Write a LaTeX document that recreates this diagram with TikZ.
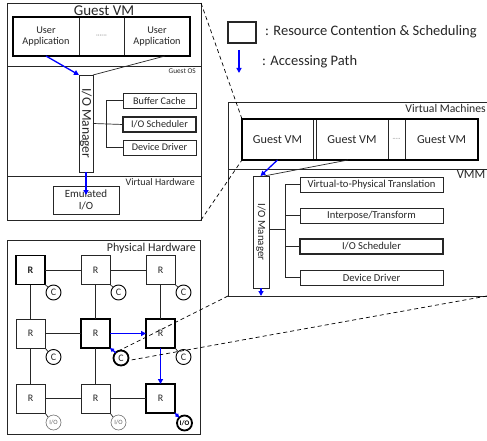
\documentclass[tikz,border=0pt]{standalone}
\usepackage{fontspec}
\setmainfont{Carlito}
\usetikzlibrary{arrows.meta,calc}
\newcommand{\fs}[1]{\fontsize{#1}{#1}\selectfont}
\begin{document}
\begin{tikzpicture}[x=1pt,y=-1pt,
  txt/.style={text=black!85},
  bx/.style={draw=black!85, line width=0.7pt, inner sep=0pt, outer sep=0pt, anchor=north west, txt, align=center},
  thickbx/.style={bx, line width=1.7pt},
  lbl/.style={inner sep=0pt, anchor=north east, txt},
  ln/.style={draw=black!85, line width=0.7pt},
  thk/.style={draw=black, line width=1.7pt},
  acc/.style={draw=blue, line width=1.3pt, -{Triangle[length=5pt,width=5pt]}},
  dsh/.style={draw=black, line width=0.7pt, dash pattern=on 4pt off 3pt},
  rbox/.style={draw=black!85, line width=0.8pt, minimum width=29pt, minimum height=29pt, inner sep=0pt, outer sep=0pt, txt, font=\fs{10}},
  rbold/.style={rbox, line width=1.7pt, draw=black},
  cc/.style={circle, draw=black, line width=0.9pt, minimum size=15pt, inner sep=0pt, outer sep=0pt, txt, font=\fs{10}},
  cbold/.style={cc, line width=1.8pt},
  ioc/.style={circle, draw=black!55, line width=0.6pt, minimum size=15pt, inner sep=0pt, outer sep=0pt, text=black!60, font=\fs{6.5}},
  iobold/.style={ioc, draw=black, text=black, line width=1.8pt, font=\bfseries\fs{7}}
]
\useasboundingbox (0,0) rectangle (487,441);

% ---------------- Guest VM -----------------
\node[bx, minimum width=194pt, minimum height=217pt] (gvm) at (7,3) {};
\node[txt, inner sep=0pt, font=\fs{15}] (gvmt) at (104,10.5) {Guest VM};
\node[bx, minimum width=66pt, minimum height=39pt, font=\fs{10.3}, align=center] (app1) at (13,17) {User\\[1pt]Application};
\node[bx, minimum width=45pt, minimum height=39pt, font=\fs{7}, text=black!45] (appd) at (79,17) {\textperiodcentered\textperiodcentered\textperiodcentered\textperiodcentered\textperiodcentered\textperiodcentered};
\node[bx, minimum width=66pt, minimum height=39pt, font=\fs{10.3}, align=center] (app2) at (124,17) {User\\[1pt]Application};
\draw[thk] (app1.north west) rectangle (app2.south east);
\coordinate (gos1) at (7,66);
\coordinate (gos2) at (201,66);
\draw[ln] (gos1) -- (gos2);
\node[lbl, font=\fs{7.3}] (goslbl) at (196,68.5) {Guest OS};
\node[bx, minimum width=14pt, minimum height=97pt] (gm) at (79,75) {};
\node[txt, rotate=-90, font=\fs{13.5}, inner sep=0pt] (gmt) at (gm.center) {I/O Manager};
\node[bx, minimum width=73pt, minimum height=15pt, font=\fs{10.2}] (gbc) at (123,93) {Buffer Cache};
\node[thickbx, minimum width=73pt, minimum height=15pt, font=\fs{10.2}] (gsch) at (123,117) {I/O Scheduler};
\node[bx, minimum width=73pt, minimum height=15pt, font=\fs{10.2}] (gdd) at (123,140) {Device Driver};
\coordinate (gbr) at (106,124);
\draw[ln] (gbc.west) -| (gbr |- gdd.west) -- (gdd.west);
\draw[ln] (gm.east) -- (gsch.west);
\coordinate (gvh1) at (7,176);
\coordinate (gvh2) at (201,176);
\draw[ln] (gvh1) -- (gvh2);
\node[lbl, font=\fs{10}] (gvhlbl) at (195,178.5) {Virtual Hardware};
\node[bx, minimum width=66pt, minimum height=28pt, font=\fs{11}, align=center] (emu) at (53,186) {Emulated\\[0.5pt]I/O};
\draw[acc] (app1.south) -- (gm.north west);
\draw[ln] ([xshift=8pt]app2.south) -- (gm.north east);
\draw[acc] (gm.south) -- ([yshift=-9pt]emu.north);

% ---------------- Legend -----------------
\node[thickbx, minimum width=28pt, minimum height=21pt] (legbox) at (228,22) {};
\node[txt, anchor=west, inner sep=0pt, font=\fs{14.5}] (legt1) at (265,32) {: Resource Contention \& Scheduling};
\coordinate (lega1) at (239,50);
\coordinate (lega2) at (239,73);
\draw[acc] (lega1) -- (lega2);
\node[txt, anchor=west, inner sep=0pt, font=\fs{14.5}] (legt2) at (262,61.5) {: Accessing Path};

% ---------------- Virtual machines / VMM -----------------
\coordinate (otl) at (228,102);
\coordinate (otr) at (487,102);
\coordinate (obl) at (228,296);
\coordinate (obr) at (487,296);
\draw[ln] (otr) -- (otl) -- (obl) -- (obr);
\node[lbl, font=\fs{11.7}] (vmlbl) at (486,104) {Virtual Machines};
\node[bx, minimum width=71pt, minimum height=41pt, font=\fs{12.2}] (vm1) at (242,119) {Guest VM};
\node[bx, minimum width=72pt, minimum height=41pt, font=\fs{12.2}] (vm2) at (316,119) {Guest VM};
\node[bx, minimum width=17pt, minimum height=41pt, font=\fs{6}, text=black!45] (vmd) at (388,119) {\textperiodcentered\textperiodcentered\textperiodcentered\textperiodcentered\textperiodcentered};
\node[bx, minimum width=73pt, minimum height=41pt, font=\fs{12.2}] (vm3) at (405,119) {Guest VM};
\draw[thk] (vm1.north west) rectangle (vm3.south east);
\coordinate (vmm1) at (228,169);
\coordinate (vmm2) at (487,169);
\draw[ln] (vmm1) -- (vmm2);
\node[lbl, font=\fs{12.5}] (vmmlbl) at (485.5,170.5) {VMM};
\node[bx, minimum width=16pt, minimum height=112pt] (vio) at (253,176) {};
\node[txt, rotate=-90, font=\fs{11}, inner sep=0pt] (viot) at (vio.center) {I/O Manager};
\node[bx, minimum width=143pt, minimum height=15pt, font=\fs{10.6}] (v2p) at (300,177) {Virtual-to-Physical Translation};
\node[bx, minimum width=143pt, minimum height=15pt, font=\fs{10.6}] (ipt) at (300,208) {Interpose/Transform};
\node[thickbx, minimum width=143pt, minimum height=15pt, font=\fs{10.6}] (vsch) at (300,239) {I/O Scheduler};
\node[bx, minimum width=143pt, minimum height=15pt, font=\fs{10.6}] (vdd) at (300,270) {Device Driver};
\coordinate (vbr) at (285,229);
\draw[ln] (v2p.west) -| (vbr |- vdd.west) -- (vdd.west);
\draw[ln] (ipt.west) -- (ipt.west -| vbr);
\draw[ln] (vsch.west) -- (vsch.west -| vbr);
\draw[ln] (vio.east |- vbr) -- (vbr);
\draw[acc] (vm1.south) -- ([xshift=-0.5pt]vio.north);
\draw[ln] ([xshift=-4pt]vm2.south) -- ([xshift=3pt]vio.north);
\draw[acc] (vio.south) -- (vio.south |- obl);

% ---------------- Physical hardware -----------------
\node[bx, minimum width=193pt, minimum height=194pt] (phw) at (7,240) {};
\node[lbl, font=\fs{12}] (phwlbl) at (196,242.5) {Physical Hardware};

\node[rbox, line width=1.2pt, draw=black, font=\bfseries\fs{10}] (r11) at (30.5,270) {R};
\node[rbox] (r12) at (95.5,270) {R};
\node[rbox] (r13) at (160.5,270) {R};
\node[rbox] (r21) at (30.5,333.5) {R};
\node[rbold] (r22) at (95.5,333.5) {R};
\node[rbold] (r23) at (160.5,333.5) {R};
\node[rbox] (r31) at (30.5,398.5) {R};
\node[rbox] (r32) at (95.5,398.5) {R};
\node[rbold] (r33) at (160.5,398.5) {R};

\node[cc] (c11) at (53.5,292.5) {C};
\node[cc] (c12) at (118.5,292.5) {C};
\node[cc] (c13) at (183.5,292.5) {C};
\node[cc] (c21) at (53.5,357) {C};
\node[cbold] (c22) at (121,358) {C};
\node[cc] (c23) at (183.5,357) {C};
\node[ioc] (i31) at (53.5,422.5) {I/O};
\node[ioc] (i32) at (118.5,422.5) {I/O};
\node[iobold] (i33) at (184.5,423) {I/O};

\foreach \r/\c in {r11/c11,r12/c12,r13/c13,r21/c21,r23/c23,r31/i31,r32/i32}
  \draw[ln] (\r.south east) -- (\c.135);
\draw[ln] (r11.east) -- (r12.west);
\draw[ln] (r12.east) -- (r13.west);
\draw[ln] (r21.east) -- (r22.west);
\draw[ln] (r31.east) -- (r32.west);
\draw[ln] (r32.east) -- (r33.west);
\draw[ln] (r11.south) -- (r21.north);
\draw[ln] (r21.south) -- (r31.north);
\draw[ln] (r12.south) -- (r22.north);
\draw[ln] (r22.south) -- (r32.north);
\draw[ln] (r13.south) -- (r23.north);

\draw[acc] (r22.east) -- (r23.west);
\draw[acc] (r23.south) -- (r33.north);
\draw[acc, -{Triangle[length=4pt,width=4pt]}] (r33.south east) -- (i33.135);
\draw[acc, -{Triangle[length=4pt,width=4pt]}] (c22.135) -- (r22.south east);

% ---------------- dashed zoom lines -----------------
\draw[dsh] (gvm.north east) -- (vm1.north west);
\draw[dsh] (gvm.south east) -- (vm1.south west);
\draw[dsh] (obl) -- (c22.125);
\draw[dsh] (obr) -- (c22.-20);
\end{tikzpicture}
\end{document}
